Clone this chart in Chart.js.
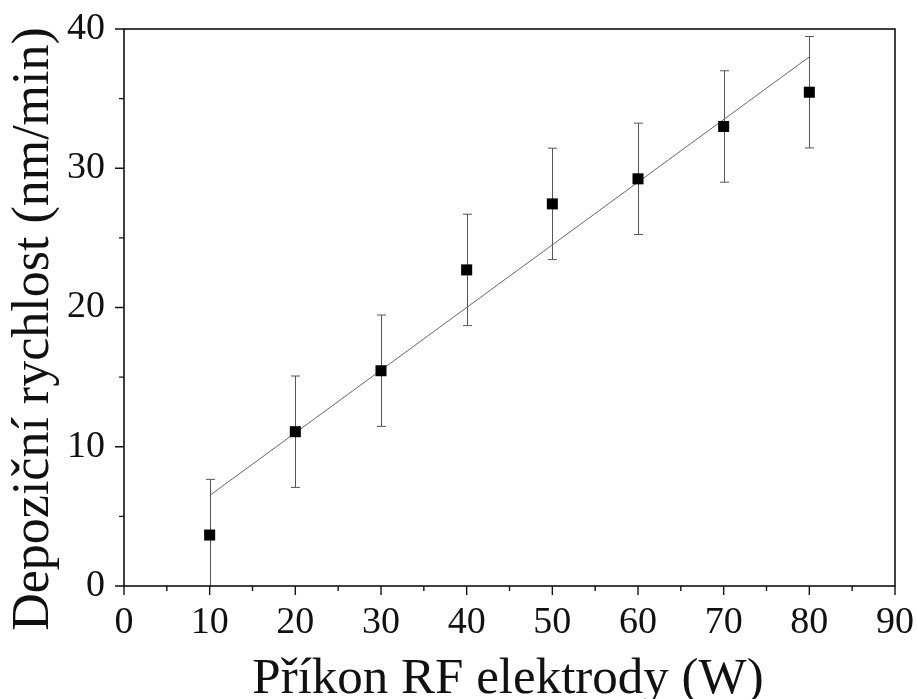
<!DOCTYPE html>
<html>
<head>
<meta charset="utf-8">
<script src="https://cdn.jsdelivr.net/npm/chart.js@4"></script>
<style>
  html, body { margin: 0; padding: 0; background: #fff; }
  #c { display: block; }
</style>
</head>
<body>
<canvas id="c" width="917" height="699"></canvas>
<script>
// ==== Data ====
const powerW = [10, 20, 30, 40, 50, 60, 70, 80];
const rate = [3.66, 11.08, 15.46, 22.7, 27.44, 29.24, 33.0, 35.46];
const rateErr = [4, 4, 4, 4, 4, 4, 4, 4];

// linear fit endpoints
const fitX = [10, 80];
const fitY = [6.5, 38.0];

const xTicks = [0, 10, 20, 30, 40, 50, 60, 70, 80, 90];
const yTicks = [0, 10, 20, 30, 40];

const xTitle = 'Příkon RF elektrody (W)';
const yTitle = 'Depoziční rychlost (nm/min)';

const serif = "'Liberation Serif', 'DejaVu Serif', serif";

// chybové úsečky
const errorBars = {
  id: 'errorBars',
  beforeDatasetsDraw(chart) {
    const ctx = chart.ctx, xs = chart.scales.x, ys = chart.scales.y, a = chart.chartArea;
    ctx.save();
    ctx.beginPath();
    ctx.rect(a.left, a.top, a.right - a.left, a.bottom - a.top);
    ctx.clip();
    ctx.strokeStyle = '#555';
    ctx.lineWidth = 1;
    for (let i = 0; i < powerW.length; i++) {
      const px = Math.round(xs.getPixelForValue(powerW[i])) + 0.5;
      const top = ys.getPixelForValue(rate[i] + rateErr[i]);
      const bot = ys.getPixelForValue(rate[i] - rateErr[i]);
      ctx.beginPath();
      ctx.moveTo(px, top); ctx.lineTo(px, bot);
      ctx.moveTo(px - 4.5, top); ctx.lineTo(px + 4.5, top);
      ctx.moveTo(px - 4.5, bot); ctx.lineTo(px + 4.5, bot);
      ctx.stroke();
    }
    ctx.restore();
  }
};

// rámeček, tick značky a popisky os
const frameTicks = {
  id: 'frameTicks',
  afterDraw(chart) {
    const ctx = chart.ctx, xs = chart.scales.x, ys = chart.scales.y, a = chart.chartArea;
    ctx.save();
    ctx.strokeStyle = '#111';
    ctx.lineWidth = 1.6;
    ctx.strokeRect(a.left, a.top, a.right - a.left, a.bottom - a.top);
    ctx.lineWidth = 1.4;
    ctx.beginPath();
    for (let v = 0; v <= 90; v += 5) {
      const px = xs.getPixelForValue(v);
      const len = v % 10 === 0 ? 9 : 5;
      ctx.moveTo(px, a.bottom); ctx.lineTo(px, a.bottom + len);
    }
    for (let v = 0; v <= 40; v += 5) {
      const py = ys.getPixelForValue(v);
      const len = v % 10 === 0 ? 9 : 5;
      ctx.moveTo(a.left, py); ctx.lineTo(a.left - len, py);
    }
    ctx.stroke();

    ctx.fillStyle = '#111';
    ctx.textAlign = 'center';
    ctx.textBaseline = 'alphabetic';
    ctx.font = '51px ' + serif;
    ctx.fillText(xTitle, 508, 693);
    ctx.translate(48, 329);
    ctx.rotate(-Math.PI / 2);
    ctx.font = '52px ' + serif;
    ctx.fillText(yTitle, 0, 0);
    ctx.restore();
  }
};

// zrušit automatický okraj od popisků
function noPad(s) {
  s.paddingTop = 0; s.paddingBottom = 0; s.paddingLeft = 0; s.paddingRight = 0;
}

const chart = new Chart(document.getElementById('c').getContext('2d'), {
  type: 'scatter',
  data: {
    datasets: [
      {
        label: 'fit',
        type: 'line',
        data: fitX.map((x, i) => ({ x: x, y: fitY[i] })),
        borderColor: '#666',
        borderWidth: 1,
        pointRadius: 0,
        fill: false,
        order: 2
      },
      {
        label: 'Depoziční rychlost',
        data: powerW.map((x, i) => ({ x: x, y: rate[i] })),
        pointStyle: 'rect',
        pointRadius: 7.8,
        pointBackgroundColor: '#000',
        pointBorderWidth: 0,
        order: 1
      }
    ]
  },
  options: {
    responsive: false,
    animation: false,
    layout: { padding: { left: 0, top: 29, right: 22, bottom: 0 } },
    plugins: {
      legend: { display: false },
      tooltip: { enabled: false }
    },
    scales: {
      x: {
        type: 'linear',
        min: 0, max: 90,
        afterBuildTicks: s => { s.ticks = xTicks.map(v => ({ value: v })); },
        afterFit: s => { s.height = 113; noPad(s); },
        grid: { display: false, drawTicks: false, tickLength: 0 },
        border: { display: false },
        ticks: { color: '#111', font: { family: serif, size: 38 }, padding: 14, maxRotation: 0 }
      },
      y: {
        min: 0, max: 40,
        afterBuildTicks: s => { s.ticks = yTicks.map(v => ({ value: v })); },
        afterFit: s => { s.width = 124; noPad(s); },
        grid: { display: false, drawTicks: false, tickLength: 0 },
        border: { display: false },
        ticks: { color: '#111', font: { family: serif, size: 38 }, padding: 19 }
      }
    }
  },
  plugins: [errorBars, frameTicks]
});
</script>
</body>
</html>
